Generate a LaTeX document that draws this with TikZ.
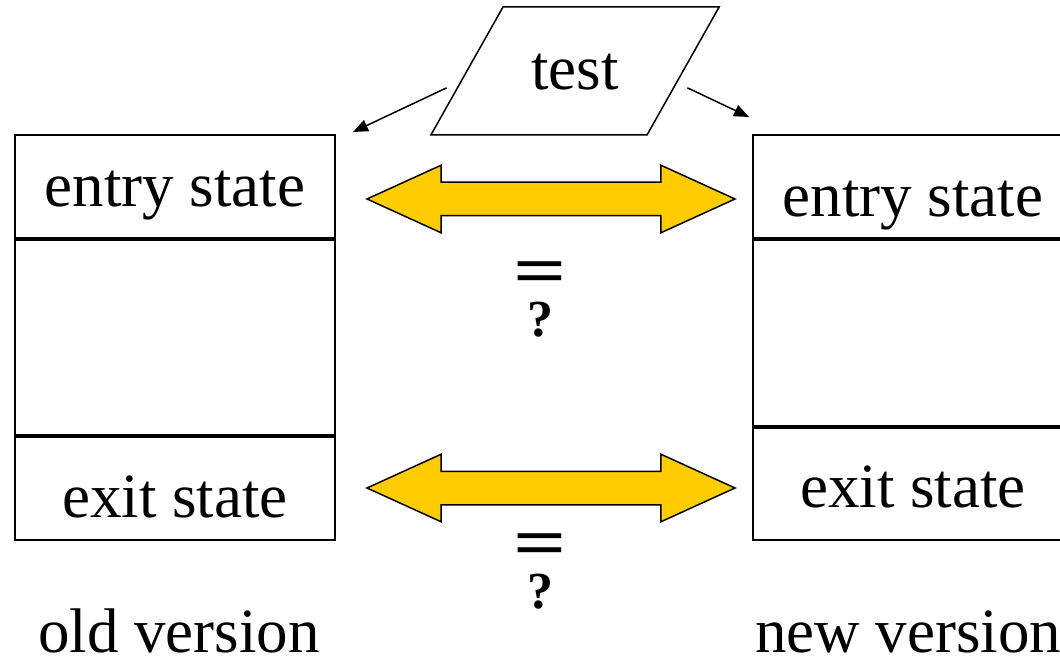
\documentclass[tikz,border=0pt]{standalone}
\usepackage{fontspec}
\setmainfont{Liberation Serif}
\usetikzlibrary{shapes, arrows.meta, positioning, calc, shapes.geometric}
\definecolor{arrowyellow}{HTML}{FFCC00}

\begin{document}
\begin{tikzpicture}[
    x=1pt, y=-1pt,
    cell/.style={rectangle, draw=black, line width=2pt, minimum width=320pt, inner sep=0pt, text depth=0pt, font=\fontsize{63}{70}\selectfont},
    testbox/.style={trapezium, trapezium left angle=60.6, trapezium right angle=119.4, draw=black, line width=1.5pt, text width=88pt, align=center, text height=37pt, text depth=0pt, inner xsep=28pt, inner ysep=45.5pt, font=\fontsize{63}{70}\selectfont},
    ptr/.style={-{Triangle[length=15pt, width=12pt]}, line width=1.5pt},
    cmp/.style={double arrow, double arrow tip angle=49, double arrow head extend=17pt, double arrow head indent=0pt, minimum height=368pt, minimum width=0pt, inner xsep=0pt, inner ysep=16pt, fill=arrowyellow, draw=black, line width=1.5pt},
    query/.style={font=\bfseries\fontsize{52}{52}\selectfont, align=center, inner sep=0pt},
    version/.style={font=\fontsize{63}{70}\selectfont, inner sep=0pt}
]
\useasboundingbox (0,0) rectangle (1060,660);

% Old version
\node[cell, minimum height=103pt, text height=41pt] (oldentry) at (175,186.5) {entry state};
\node[cell, minimum height=195pt, below=0pt of oldentry] (oldbody) {};
\node[cell, minimum height=103pt, text height=57pt, below=0pt of oldbody] (oldexit) {exit state};

% New version
\node[cell, minimum height=103pt, text height=61pt] (newentry) at (913,186.5) {entry state};
\node[cell, minimum height=186pt, below=0pt of newentry] (newbody) {};
\node[cell, minimum height=112pt, text height=46pt, below=0pt of newbody] (newexit) {exit state};

% Test input
\node[testbox] (test) at (575,71) {test};
\draw[ptr] ($(test.bottom left corner)!0.37!(test.top left corner)+(-10pt,0)$) -- ([xshift=17pt, yshift=2pt]oldentry.north east);
\draw[ptr] ($(test.bottom right corner)!0.37!(test.top right corner)+(13pt,0)$) -- ([xshift=-3pt, yshift=17pt]newentry.north west);

% Comparisons
\node[cmp] (entrycmp) at (551,199) {};
\node[cmp] (exitcmp) at (551,488) {};
\node[query] (entryq) at (540,299) {\scalebox{1.8}[1.35]{=}\\[-10pt]?};
\node[query] (exitq) at (540,571) {\scalebox{1.8}[1.35]{=}\\[-10pt]?};

% Labels
\node[version, anchor=base] (oldlabel) at (179,652) {old version};
\node[version, anchor=base west] (newlabel) at (755,652) {new version};

\end{tikzpicture}
\end{document}
